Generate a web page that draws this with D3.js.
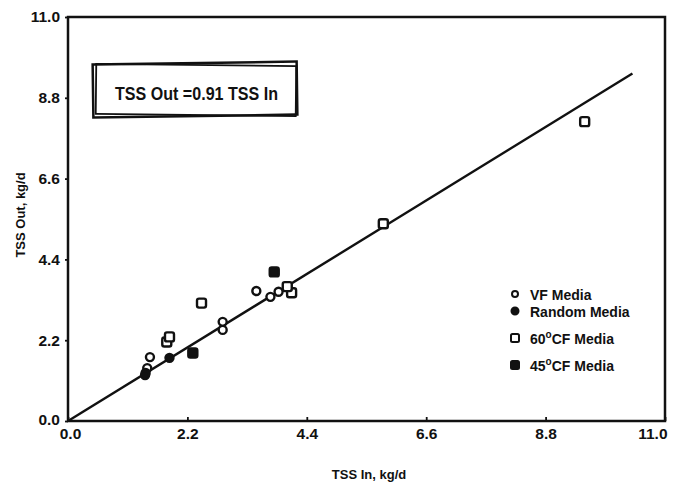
<!DOCTYPE html>
<html>
<head>
<meta charset="utf-8">
<script src="https://cdn.jsdelivr.net/npm/d3@7"></script>
<style>
  body { margin: 0; background: #fff; }
  text { font-family: "Liberation Sans", Arial, sans-serif; fill: #111; }
  .tick text { font-weight: bold; font-size: 15.5px; }
</style>
</head>
<body>
<div class="chart"></div>
<script>
var svgWidth = 675;
var svgHeight = 484;

var margin = { top: 17, right: 10, bottom: 63, left: 68 };
var width = svgWidth - margin.left - margin.right;
var height = svgHeight - margin.top - margin.bottom;

// Tick labels (same on both axes)
var tickValues = [0, 2.2, 4.4, 6.6, 8.8, 11.0];

// TSS In / TSS Out, kg/d
var vfIn = [1.51, 1.46, 2.85, 2.85, 3.47, 3.73, 3.88];
var vfOut = [1.74, 1.44, 2.70, 2.48, 3.54, 3.38, 3.52];

var randomIn = [1.87, 1.43, 1.42];
var randomOut = [1.72, 1.31, 1.25];

var cf60In = [2.46, 1.82, 1.87, 4.12, 4.04, 5.81, 9.52];
var cf60Out = [3.21, 2.15, 2.29, 3.49, 3.66, 5.37, 8.15];

var cf45In = [3.80, 2.30];
var cf45Out = [4.06, 1.85];

// regression line TSS Out = 0.91 TSS In
var fitIn = [0, 10.4];
var fitOut = [0, 9.46];

var legendLabels = ["VF Media", "Random Media", "60|CF Media", "45|CF Media"];

var svg = d3.select(".chart")
  .append("svg")
  .attr("width", svgWidth)
  .attr("height", svgHeight);

var chartGroup = svg.append("g")
  .attr("transform", `translate(${margin.left}, ${margin.top})`);

var x = d3.scaleLinear().domain([0, 11]).range([0, width]);
var y = d3.scaleLinear().domain([0, 11]).range([height, 0]);

// axes
var xAxis = d3.axisBottom(x).tickValues(tickValues).tickFormat(d3.format(".1f"))
  .tickSizeInner(-4).tickSizeOuter(0).tickPadding(7);
var yAxis = d3.axisLeft(y).tickValues(tickValues).tickFormat(d3.format(".1f"))
  .tickSizeInner(3).tickSizeOuter(0).tickPadding(5);

var gx = chartGroup.append("g")
  .attr("transform", `translate(0, ${height})`)
  .call(xAxis);
gx.selectAll(".tick text").filter(d => d === 0).attr("dx", 2);
gx.selectAll(".tick text").filter(d => d === 11).attr("text-anchor", "end").attr("dx", 2);

var gy = chartGroup.append("g").call(yAxis);
gy.selectAll(".tick text").filter(d => d === 0).attr("dy", "0.2em");

chartGroup.selectAll(".domain").remove();
chartGroup.selectAll(".tick line").attr("stroke", "#111").attr("stroke-width", 1.8);

// frame
chartGroup.append("rect")
  .attr("width", width)
  .attr("height", height)
  .attr("fill", "none")
  .attr("stroke", "#111")
  .attr("stroke-width", 2.5);

// fit line
chartGroup.append("line")
  .attr("x1", x(fitIn[0])).attr("y1", y(fitOut[0]))
  .attr("x2", x(fitIn[1])).attr("y2", y(fitOut[1]))
  .attr("stroke", "#111")
  .attr("stroke-width", 2.4);

// markers
function drawPoints(xs, ys, shape, filled) {
  var pts = xs.map((d, i) => ({ x: d, y: ys[i] }));
  var g = chartGroup.append("g");
  if (shape === "circle") {
    g.selectAll("circle").data(pts).enter().append("circle")
      .attr("cx", d => x(d.x)).attr("cy", d => y(d.y))
      .attr("r", 4)
      .attr("fill", filled ? "#111" : "#fff")
      .attr("stroke", "#111").attr("stroke-width", 2.4);
  } else {
    g.selectAll("rect").data(pts).enter().append("rect")
      .attr("x", d => x(d.x) - 4.5).attr("y", d => y(d.y) - 4.5)
      .attr("width", 9).attr("height", 9).attr("rx", 2)
      .attr("fill", filled ? "#111" : "#fff")
      .attr("stroke", "#111").attr("stroke-width", 2.4);
  }
}
drawPoints(vfIn, vfOut, "circle", false);
drawPoints(cf60In, cf60Out, "square", false);
drawPoints(randomIn, randomOut, "circle", true);
drawPoints(cf45In, cf45Out, "square", true);

// equation box (hand drawn look)
var eq = chartGroup.append("g").attr("transform", "translate(25, 46)");
eq.append("rect").attr("width", 204).attr("height", 53)
  .attr("fill", "#fff").attr("stroke", "#111").attr("stroke-width", 2.5)
  .attr("transform", "rotate(-0.8 102 26)");
eq.append("rect").attr("x", 3).attr("y", 2).attr("width", 200).attr("height", 50)
  .attr("fill", "none").attr("stroke", "#111").attr("stroke-width", 1.8)
  .attr("transform", "rotate(0.6 102 26)");
eq.append("text")
  .attr("x", 22).attr("y", 37)
  .attr("textLength", 163).attr("lengthAdjust", "spacingAndGlyphs")
  .style("font-size", "18px")
  .style("font-weight", "bold")
  .text("TSS Out =0.91 TSS In");

// legend
var legendShapes = [["circle", false], ["circle", true], ["square", false], ["square", true]];
var legendY = [295, 312, 339, 366];
var legend = svg.append("g");
legendLabels.forEach(function(lab, i) {
  var ly = legendY[i];
  var s = legendShapes[i];
  if (s[0] === "circle") {
    legend.append("circle").attr("cx", 515).attr("cy", ly - 1).attr("r", i === 0 ? 3 : 3.5)
      .attr("fill", s[1] ? "#111" : "#fff").attr("stroke", "#111").attr("stroke-width", 2);
  } else {
    legend.append("rect").attr("x", 511).attr("y", ly - 5).attr("width", 8).attr("height", 8).attr("rx", 1.5)
      .attr("fill", s[1] ? "#111" : "#fff").attr("stroke", "#111").attr("stroke-width", 2);
  }
  var t = legend.append("text").attr("x", 530).attr("y", ly + 5)
    .style("font-size", "14px").style("font-weight", "bold");
  var parts = lab.split("|");
  if (parts.length > 1) {
    t.append("tspan").text(parts[0]);
    t.append("tspan").attr("dy", -6).style("font-size", "10px").text("o");
    t.append("tspan").attr("dy", 6).text(parts[1]);
  } else {
    t.text(lab);
  }
});

// axis labels
chartGroup.append("text")
  .attr("transform", "rotate(-90)")
  .attr("x", -(215 - margin.top))
  .attr("y", -margin.left + 25)
  .attr("text-anchor", "middle")
  .style("font-size", "13px")
  .style("font-weight", "bold")
  .text("TSS Out, kg/d");

svg.append("text")
  .attr("x", 369)
  .attr("y", 479)
  .attr("text-anchor", "middle")
  .style("font-size", "13px")
  .style("font-weight", "bold")
  .text("TSS In, kg/d");
</script>
</body>
</html>
